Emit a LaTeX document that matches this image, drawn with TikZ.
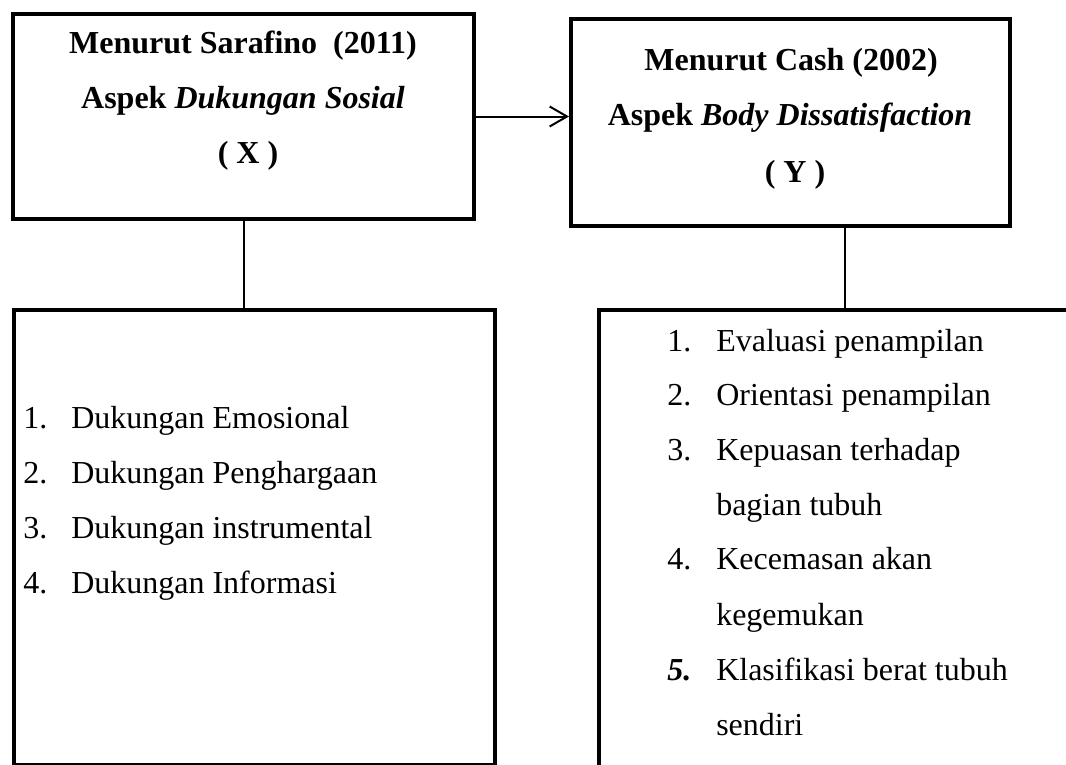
\documentclass[tikz,border=0pt]{standalone}
\usepackage{fontspec}
\setmainfont{Liberation Serif}
\usetikzlibrary{arrows.meta}

\begin{document}
\begin{tikzpicture}[x=0.75pt,y=-0.75pt,
  box/.style={draw, line width=3pt, inner sep=0pt},
  head/.style={font=\fontsize{24}{29}\selectfont\bfseries, anchor=base, inner sep=0pt},
  item/.style={font=\fontsize{24}{29}\selectfont, anchor=base west, inner sep=0pt},
  link/.style={line width=1.5pt}]

% Frame of the picture
\useasboundingbox (0,0) rectangle (1066,764);
\clip (0,0) rectangle (1066,764);

% Top boxes
\node[box, minimum width=345.4pt, minimum height=153.75pt] (X) at (243.75,116.5) {};
\node[box, minimum width=329.25pt, minimum height=155.25pt] (Y) at (790.5,122.5) {};

% Bottom boxes
\node[box, minimum width=360.75pt, minimum height=341.6pt] (LX) at (254.5,537.75) {};
\node[box, minimum width=369pt, minimum height=352.5pt] (LY) at (845,545) {};

% Headings of X
\node[head] (x1) at (243,53) {Menurut Sarafino \ (2011)};
\node[head] (x2) at (243,108) {Aspek \textit{Dukungan Sosial}};
\node[head] (x3) at (248,163) {( X )};

% Headings of Y
\node[head] (y1) at (791,70) {Menurut Cash (2002)};
\node[head] (y2) at (790,125) {Aspek \textit{Body Dissatisfaction}};
\node[head] (y3) at (795,182) {( Y )};

% Aspects of X
\node[item] (n1) at (23,428) {1.};  \node[item] (a1) at (71,428) {Dukungan Emosional};
\node[item] (n2) at (23,483) {2.};  \node[item] (a2) at (71,483) {Dukungan Penghargaan};
\node[item] (n3) at (23,538) {3.};  \node[item] (a3) at (71,538) {Dukungan instrumental};
\node[item] (n4) at (23,593) {4.};  \node[item] (a4) at (71,593) {Dukungan Informasi};

% Aspects of Y
\node[item] (m1) at (667,351) {1.};  \node[item] (b1) at (716,351) {Evaluasi penampilan};
\node[item] (m2) at (667,405) {2.};  \node[item] (b2) at (716,405) {Orientasi penampilan};
\node[item] (m3) at (667,460) {3.};  \node[item] (b3) at (716,460) {Kepuasan terhadap};
\node[item] (b3b) at (716,515) {bagian tubuh};
\node[item] (m4) at (667,569) {4.};  \node[item] (b4) at (716,569) {Kecemasan akan};
\node[item] (b4b) at (716,625) {kegemukan};
\node[item] (m5) at (667,680) {\textbf{\textit{5.}}};  \node[item] (b5) at (716,680) {Klasifikasi berat tubuh};
\node[item] (b5b) at (716,735) {sendiri};

% Connectors
\draw[link, -{Straight Barb[length=13pt, width=15pt]}] (X.east) -- (X.east -| Y.west);
\draw[link] (X.south) -- (X.south |- LX.north);
\draw[link] (LY.north) -- (LY.north |- Y.south);

\end{tikzpicture}
\end{document}
